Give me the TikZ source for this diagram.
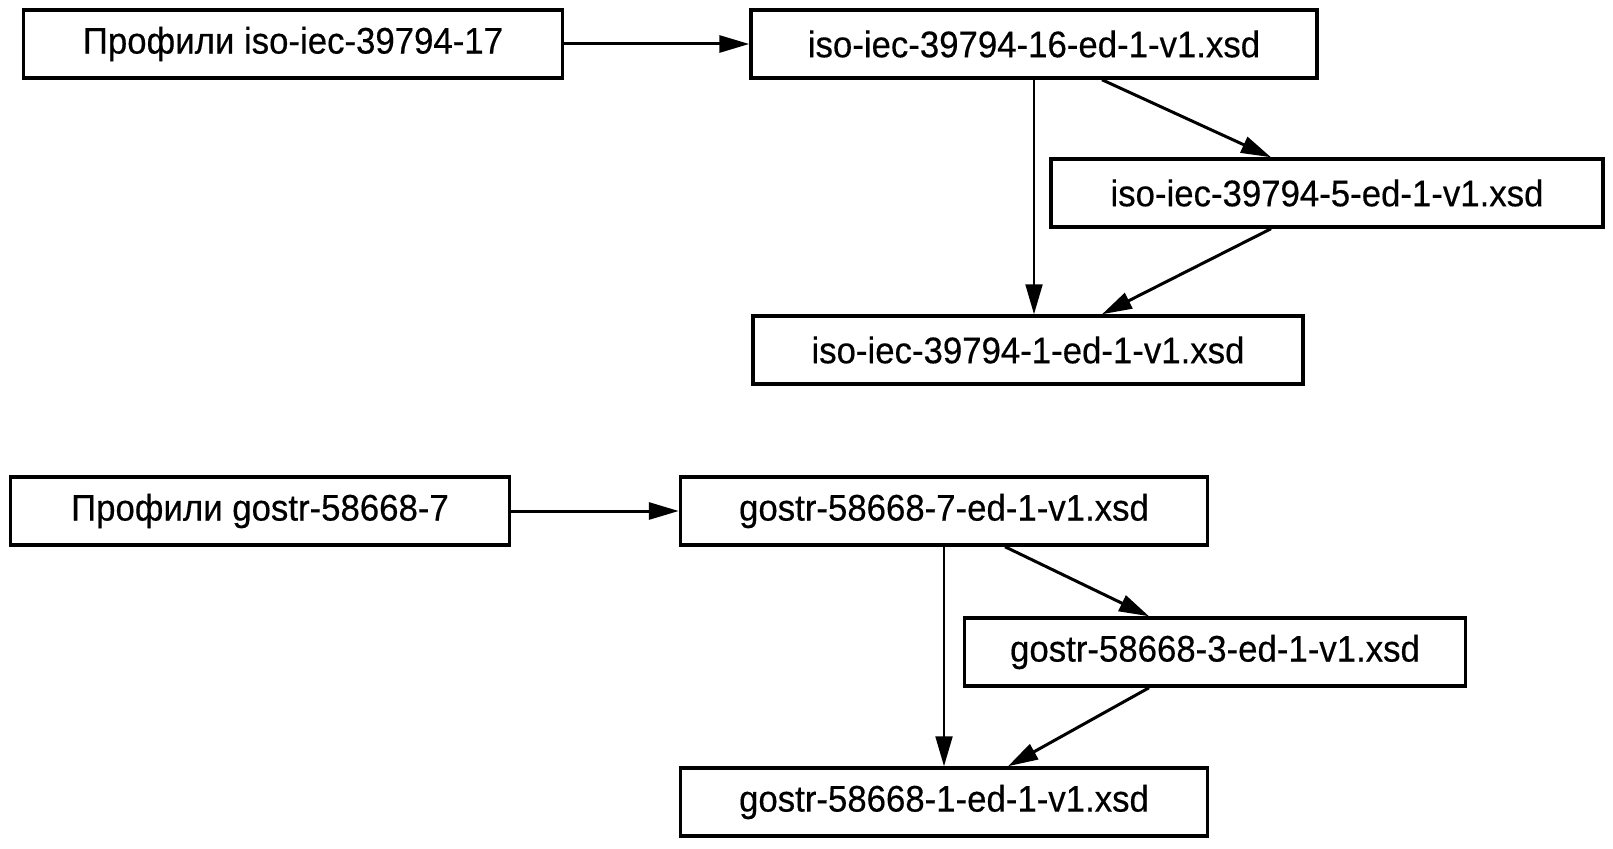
\documentclass[tikz,border=0pt]{standalone}
\usepackage{fontspec}
\setmainfont{Liberation Sans}[FakeStretch=0.94,FakeBold=0.4]
\usetikzlibrary{arrows.meta}

\begin{document}
\begin{tikzpicture}[x=1pt,y=-1pt,>={Triangle[length=30pt,width=17pt]},
  box/.style={draw,line width=3.5pt,minimum height=68pt,inner sep=0pt,font=\fontsize{37}{44}\selectfont},
  link/.style={->,line width=3pt}]
\useasboundingbox (0,0) rectangle (1613,848);
% iso-iec profiles
\node[box,minimum width=539pt] (P1) at (293,44) {Профили iso-iec-39794-17};
\node[box,minimum width=566pt] (A16) at (1034,44) {iso-iec-39794-16-ed-1-v1.xsd};
\node[box,minimum width=552pt] (A5) at (1327,193) {iso-iec-39794-5-ed-1-v1.xsd};
\node[box,minimum width=550pt] (A1) at (1028,350) {iso-iec-39794-1-ed-1-v1.xsd};
\draw[link] (P1) -- (A16);
\draw[link,line width=2pt] (A16.south) -- (A16.south |- A1.north);
\draw[link] ([xshift=68pt]A16.south) -- ([xshift=-56pt]A5.north);
\draw[link] ([xshift=-56pt]A5.south) -- ([xshift=74pt]A1.north);
% gostr profiles
\node[box,minimum width=499pt] (P2) at (260,511) {Профили gostr-58668-7};
\node[box,minimum width=527pt] (G7) at (944,511) {gostr-58668-7-ed-1-v1.xsd};
\node[box,minimum width=501pt] (G3) at (1215,652) {gostr-58668-3-ed-1-v1.xsd};
\node[box,minimum width=527pt] (G1) at (944,802) {gostr-58668-1-ed-1-v1.xsd};
\draw[link] (P2) -- (G7);
\draw[link,line width=2pt] (G7.south) -- (G1.north);
\draw[link] ([xshift=61pt]G7.south) -- ([xshift=-66pt]G3.north);
\draw[link] ([xshift=-66pt]G3.south) -- ([xshift=64pt]G1.north);
\end{tikzpicture}
\end{document}
